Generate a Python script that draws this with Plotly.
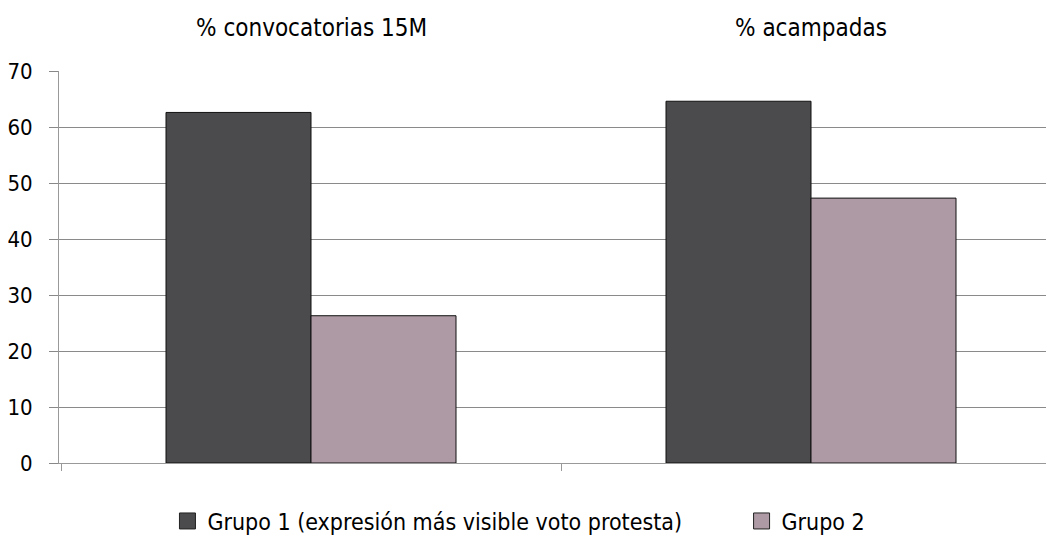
import plotly.graph_objects as go

categories = ["% convocatorias 15M", "% acampadas"]
series_names = ["Grupo 1 (expresión más visible voto protesta)", "Grupo 2"]
grupo1 = [62.6, 64.6]
grupo2 = [26.3, 47.3]
y_ticks = [0, 10, 20, 30, 40, 50, 60, 70]

FONT = "DejaVu Sans Condensed, Liberation Sans, sans-serif"
colors = ["#4b4b4d", "#ad9aa4"]
legend_ids = ["legend", "legend2"]

x = list(range(len(categories)))
fig = go.Figure()
for name, vals, col in zip(series_names, [grupo1, grupo2], colors):
    fig.add_trace(go.Bar(
        x=x, y=vals, name=name, showlegend=False,
        marker=dict(color=col, line=dict(color="#111111", width=1)),
    ))
# legend entries with larger square keys
for name, col, lg in zip(series_names, colors, legend_ids):
    fig.add_trace(go.Scatter(
        x=[None], y=[None], mode="markers", name=name, legend=lg,
        marker=dict(symbol="square", size=16, color=col, line=dict(color="#222222", width=1)),
    ))

for i, c in enumerate(categories):
    fig.add_annotation(x=i, y=1, xref="x", yref="paper", yanchor="middle", yshift=43,
                       text=c, showarrow=False, font=dict(family=FONT, size=24, color="#000"))

leg_common = dict(orientation="h", xanchor="left", y=-0.148, yanchor="middle",
                  font=dict(family=FONT, size=23), itemsizing="trace",
                  bgcolor="rgba(0,0,0,0)")

fig.update_layout(
    width=1046, height=530,
    margin=dict(l=51, r=0, t=63, b=75, autoexpand=False),
    paper_bgcolor="white", plot_bgcolor="white",
    barmode="group", bargap=0.42, bargroupgap=0,
    font=dict(family=FONT, size=23, color="#000"),
    showlegend=True,
    legend=dict(x=0.109, **leg_common),
    legend2=dict(x=0.686, **leg_common),
    xaxis=dict(range=[-0.504, 1.486], tickmode="array", tickvals=[-0.5, 0.5, 1.5],
               ticktext=["", "", ""], ticks="outside", ticklen=7, tickcolor="#999",
               showline=True, linecolor="#999", linewidth=1, showgrid=False, zeroline=False,
               automargin=False),
    yaxis=dict(range=[0, 70], tickmode="array", tickvals=y_ticks,
               ticks="outside", ticklen=9, tickcolor="#888",
               showline=True, linecolor="#999", linewidth=1,
               showgrid=True, gridcolor="#8a8a8a", gridwidth=1, zeroline=False,
               tickfont=dict(family=FONT, size=22), ticklabelstandoff=12, automargin=False),
)
fig.write_html("out.html")
